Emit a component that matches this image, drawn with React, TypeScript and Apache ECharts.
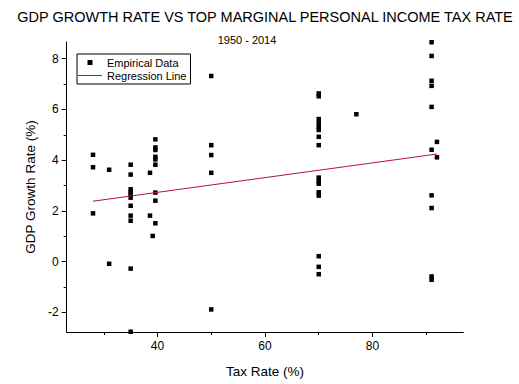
import React, { useEffect, useRef } from "react";
import * as echarts from "echarts";

// Tax rate (%) and GDP growth (%) per year
const taxRate: number[] = [
  28, 28, 28,
  31, 31,
  35, 35, 35, 35, 35, 35, 35, 35, 35, 35, 35,
  38.6, 38.6,
  39.1,
  39.6, 39.6, 39.6, 39.6, 39.6, 39.6, 39.6, 39.6, 39.6,
  50, 50, 50, 50, 50,
  70, 70, 70, 70, 70, 70, 70, 70, 70, 70, 70, 70, 70, 70, 70, 70,
  77,
  91, 91, 91, 91, 91, 91, 91, 91, 91, 91,
  92, 92,
];
const gdpGrowth: number[] = [
  4.21, 3.72, 1.9,
  3.62, -0.09,
  3.82, 3.43, 2.85, 2.74, 2.64, 2.52, 2.2, 1.81, 1.61, -0.28, -2.77,
  3.5, 1.81,
  1.01,
  4.82, 4.5, 4.4, 4.13, 4.03, 3.82, 2.72, 2.4, 1.51,
  7.32, 4.59, 4.2, 3.5, -1.89,
  6.63, 6.52, 5.62, 5.45, 5.31, 5.19, 4.92, 4.59, 3.31, 3.18, 3.07, 2.73, 2.6, 0.21, -0.21, -0.5,
  5.81,
  8.65, 8.11, 7.13, 6.93, 6.1, 4.41, 2.61, 2.11, -0.59, -0.72,
  4.72, 4.11,
];
// Regression line end points (x, y)
const regressionX: number[] = [28, 92];
const regressionY: number[] = [2.38, 4.24];

const xMajorTicks: number[] = [40, 60, 80];
const xMinorTicks: number[] = [30, 50, 70, 90];
const yMajorTicks: number[] = [-2, 0, 2, 4, 6, 8];
const yMinorTicks: number[] = [-1, 1, 3, 5, 7];

const FONT = "'Liberation Sans', Arial, sans-serif";

// legend icons drawn inside a 24x10 box (tiny corner specks fix the box size)
const BOX = "M0,0h0.01v0.01h-0.01z M23.99,9.99h0.01v0.01h-0.01z ";
const SQUARE_ICON = "path://" + BOX + "M9.5,2.5h5v5h-5z";
const LINE_ICON = "path://" + BOX + "M0,4.5h24v1h-24z";

export default function App() {
  const ref = useRef<HTMLDivElement>(null);
  useEffect(() => {
    if (!ref.current) return;
    const chart = echarts.init(ref.current, undefined, { renderer: "svg" });
    const xMin = 23.1, xMax = 96.9, yMin = -2.78, yMax = 8.66;
    const axisLineStyle = { color: "#000", width: 1 };
    chart.setOption({
      animation: false,
      backgroundColor: "#fff",
      textStyle: { fontFamily: FONT },
      title: [
        {
          text: "GDP GROWTH RATE VS TOP MARGINAL PERSONAL INCOME TAX RATE",
          left: 265,
          textAlign: "center",
          top: 9,
          padding: 0,
          textStyle: { fontFamily: FONT, fontSize: 14.5, fontWeight: "normal", color: "#000" },
        },
        {
          text: "1950 - 2014",
          left: 247,
          textAlign: "center",
          top: 34,
          padding: 0,
          textStyle: { fontFamily: FONT, fontSize: 11, fontWeight: "normal", color: "#000" },
        },
      ],
      legend: {
        orient: "vertical",
        left: 77,
        top: 54,
        padding: [3, 4, 3, 1],
        itemGap: 2,
        itemWidth: 24,
        itemHeight: 10,
        itemTextGap: 5,
        borderColor: "#000",
        borderWidth: 1,
        borderRadius: 0,
        textStyle: { fontFamily: FONT, fontSize: 11, color: "#000" },
        data: [
          { name: "Empirical Data", icon: SQUARE_ICON, itemStyle: { color: "#000", opacity: 1 } },
          { name: "Regression Line", icon: LINE_ICON, itemStyle: { color: "#b5162b", opacity: 1 } },
        ],
      },
      grid: { left: 66.7, right: 55.7, top: 42, bottom: 52, containLabel: false },
      xAxis: [
        {
          type: "value",
          min: xMin,
          max: xMax,
          name: "Tax Rate (%)",
          nameLocation: "middle",
          nameGap: 32,
          nameTextStyle: { fontFamily: FONT, fontSize: 13.5, color: "#000" },
          axisLine: { show: true, onZero: false, lineStyle: axisLineStyle },
          axisTick: { show: true, length: 5, customValues: xMajorTicks, lineStyle: axisLineStyle },
          axisLabel: { customValues: xMajorTicks, margin: 8, fontFamily: FONT, fontSize: 12, color: "#000" },
          splitLine: { show: false },
        },
        {
          type: "value",
          min: xMin,
          max: xMax,
          position: "bottom",
          axisLine: { show: false, onZero: false },
          axisTick: { show: true, length: 3, customValues: xMinorTicks, lineStyle: axisLineStyle },
          axisLabel: { show: false },
          splitLine: { show: false },
        },
      ],
      yAxis: [
        {
          type: "value",
          min: yMin,
          max: yMax,
          name: "GDP Growth Rate (%)",
          nameLocation: "middle",
          nameGap: 21,
          nameTextStyle: { fontFamily: FONT, fontSize: 13.5, color: "#000" },
          axisLine: { show: true, onZero: false, lineStyle: axisLineStyle },
          axisTick: { show: true, length: 5, customValues: yMajorTicks, lineStyle: axisLineStyle },
          axisLabel: { customValues: yMajorTicks, margin: 8, fontFamily: FONT, fontSize: 12, color: "#000" },
          splitLine: { show: false },
        },
        {
          type: "value",
          min: yMin,
          max: yMax,
          position: "left",
          axisLine: { show: false, onZero: false },
          axisTick: { show: true, length: 3, customValues: yMinorTicks, lineStyle: axisLineStyle },
          axisLabel: { show: false },
          splitLine: { show: false },
        },
      ],
      series: [
        {
          name: "Empirical Data",
          type: "scatter",
          xAxisIndex: 0,
          yAxisIndex: 0,
          symbol: "rect",
          symbolSize: 4.5,
          itemStyle: { color: "#000", opacity: 1 },
          data: taxRate.map((x, i) => [x, gdpGrowth[i]]),
        },
        {
          name: "Regression Line",
          type: "line",
          xAxisIndex: 0,
          yAxisIndex: 0,
          symbol: "none",
          lineStyle: { color: "#b5162b", width: 1 },
          itemStyle: { color: "#b5162b" },
          data: regressionX.map((x, i) => [x, regressionY[i]]),
        },
      ],
    });
    return () => chart.dispose();
  }, []);
  return (
    <div
      ref={ref}
      style={{ position: "fixed", left: 0, top: 0, width: 519, height: 384 }}
    />
  );
}
